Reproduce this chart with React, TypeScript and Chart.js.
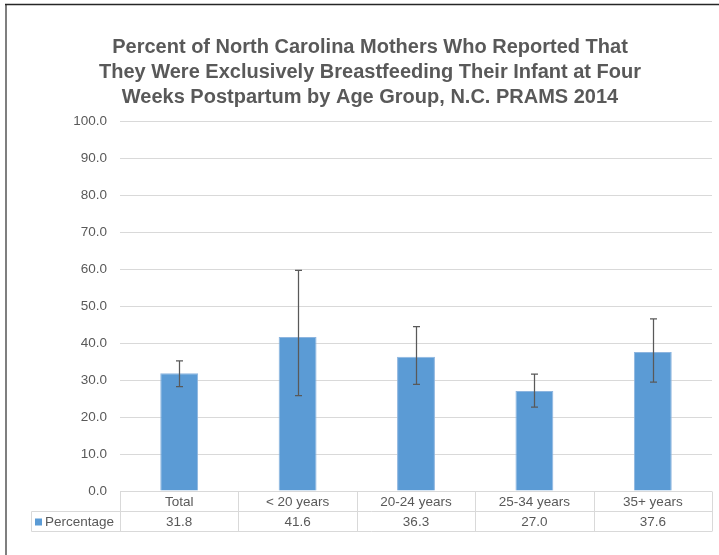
import React, { useEffect, useRef } from "react";
import { Chart, registerables } from "chart.js";

Chart.register(...registerables);

const titleLines = [
  "Percent of North Carolina Mothers Who Reported That",
  "They Were Exclusively Breastfeeding Their Infant at Four",
  "Weeks Postpartum by Age Group, N.C. PRAMS 2014",
];
const categories = ["Total", "< 20 years", "20-24 years", "25-34 years", "35+ years"];
const seriesName = "Percentage";
const values = [31.8, 41.6, 36.3, 27.0, 37.6];
const errLow = [28.2, 25.8, 28.8, 22.7, 29.4];
const errHigh = [35.2, 59.6, 44.4, 31.6, 46.5];
const yTicks = [0, 10, 20, 30, 40, 50, 60, 70, 80, 90, 100];

const FONT = "'Liberation Sans', Arial, sans-serif";
const TEXT = "#595959";
const GRID = "#d9d9d9";
const BAR = "#5B9BD5";

export default function App() {
  const ref = useRef<HTMLCanvasElement | null>(null);
  useEffect(() => {
    const canvas = ref.current!;
    const decor = {
      id: "decor",
      afterDatasetsDraw(chart: any) {
        const ctx = chart.ctx;
        const y = chart.scales.y;
        const x = chart.scales.x;
        ctx.save();
        ctx.strokeStyle = "#595959";
        ctx.lineWidth = 1.25;
        values.forEach((_, i) => {
          const cx = Math.round(x.getPixelForValue(i)) + 0.5;
          const yt = y.getPixelForValue(errHigh[i]);
          const yb = y.getPixelForValue(errLow[i]);
          ctx.beginPath();
          ctx.moveTo(cx, yt);
          ctx.lineTo(cx, yb);
          ctx.moveTo(cx - 3.5, yt);
          ctx.lineTo(cx + 3.5, yt);
          ctx.moveTo(cx - 3.5, yb);
          ctx.lineTo(cx + 3.5, yb);
          ctx.stroke();
        });
        ctx.restore();
      },
      afterDraw(chart: any) {
        const ctx = chart.ctx;
        const x = chart.scales.x;
        const area = chart.chartArea;
        ctx.save();
        ctx.strokeStyle = "#7f7f7f";
        ctx.lineWidth = 2;
        ctx.beginPath();
        ctx.moveTo(6, 4);
        ctx.lineTo(6, 555);
        ctx.stroke();
        ctx.strokeStyle = "#262626";
        ctx.lineWidth = 1.5;
        ctx.beginPath();
        ctx.moveTo(5, 4.5);
        ctx.lineTo(719, 4.5);
        ctx.stroke();
        ctx.fillStyle = TEXT;
        ctx.font = `bold 20px ${FONT}`;
        ctx.textAlign = "center";
        ctx.textBaseline = "middle";
        titleLines.forEach((t, i) => ctx.fillText(t, 370, 47 + i * 25));
        const top = Math.round(area.bottom) + 0.5;
        const mid = top + 20;
        const bot = mid + 20;
        const left = 31.5;
        const n = categories.length;
        const step = (area.right - area.left) / n;
        ctx.strokeStyle = GRID;
        ctx.lineWidth = 1;
        ctx.beginPath();
        ctx.moveTo(left, mid);
        ctx.lineTo(area.right, mid);
        ctx.moveTo(left, bot);
        ctx.lineTo(area.right, bot);
        ctx.moveTo(left, mid);
        ctx.lineTo(left, bot);
        for (let i = 0; i <= n; i++) {
          const vx = Math.round(area.left + i * step) + 0.5;
          ctx.moveTo(vx, top);
          ctx.lineTo(vx, bot);
        }
        ctx.stroke();
        ctx.font = `13.5px ${FONT}`;
        ctx.fillStyle = TEXT;
        ctx.textAlign = "center";
        categories.forEach((c, i) => {
          const cx = x.getPixelForValue(i);
          ctx.fillText(c, cx, (top + mid) / 2 + 1);
          ctx.fillText(values[i].toFixed(1), cx, (mid + bot) / 2 + 1);
        });
        ctx.fillStyle = BAR;
        ctx.fillRect(35, (mid + bot) / 2 - 3, 7, 7);
        ctx.fillStyle = TEXT;
        ctx.textAlign = "left";
        ctx.fillText(seriesName, 45, (mid + bot) / 2 + 1);
        ctx.restore();
      },
    };
    const chart = new Chart(canvas, {
      type: "bar",
      data: {
        labels: categories,
        datasets: [
          {
            label: seriesName,
            data: values,
            backgroundColor: BAR,
            borderColor: "#8db5df",
            borderWidth: 1,
            barPercentage: 0.32,
            categoryPercentage: 1,
          },
        ],
      },
      options: {
        responsive: false,
        animation: false,
        devicePixelRatio: 1,
        layout: { padding: { top: 121, left: 0, right: 7, bottom: 64 } },
        plugins: {
          legend: { display: false },
          title: { display: false },
          tooltip: { enabled: false },
        },
        scales: {
          x: { display: false },
          y: {
            min: 0,
            max: 100,
            afterFit(scale: any) {
              scale.width = 120;
            },
            afterBuildTicks(scale: any) {
              scale.ticks = yTicks.map((v) => ({ value: v }));
            },
            border: { display: false },
            grid: { color: GRID, lineWidth: 1, drawTicks: false },
            ticks: {
              padding: 13,
              color: TEXT,
              font: { family: FONT, size: 13.5 },
              callback: (v: any) => Number(v).toFixed(1),
            },
          },
        },
      },
      plugins: [decor],
    });
    return () => chart.destroy();
  }, []);
  return (
    <div style={{ position: "absolute", left: 0, top: 0, width: 719, height: 555, background: "#fff" }}>
      <canvas ref={ref} width={719} height={555} />
    </div>
  );
}
